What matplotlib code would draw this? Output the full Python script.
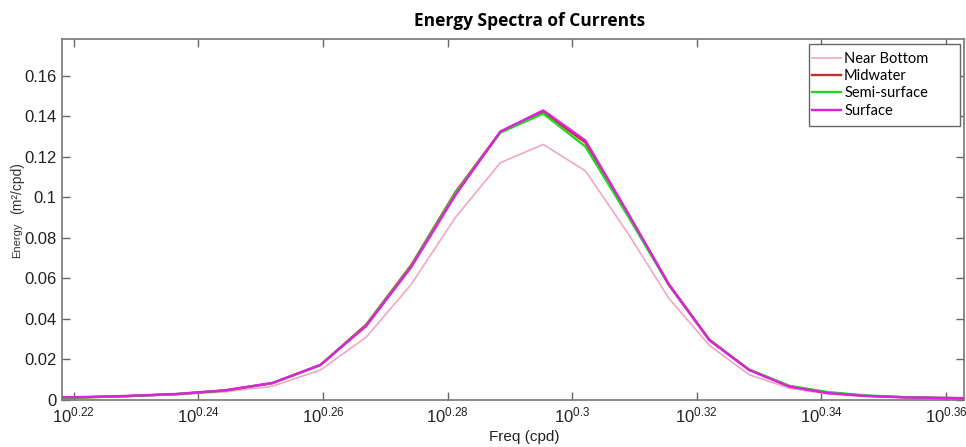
import matplotlib
matplotlib.use("Agg")
import matplotlib.pyplot as plt
from matplotlib.patches import Rectangle
from matplotlib.ticker import FixedLocator, FuncFormatter, NullLocator

# Frequencies (cpd)
freq = [1.630, 1.661, 1.692, 1.724, 1.755, 1.786, 1.818, 1.849, 1.880, 1.911,
        1.943, 1.974, 2.005, 2.037, 2.068, 2.099, 2.130, 2.162, 2.193, 2.224,
        2.255, 2.287, 2.318]

near_bottom = [0.0008, 0.0011, 0.0017, 0.0026, 0.0040, 0.0068, 0.0148, 0.0310,
               0.0570, 0.0900, 0.1170, 0.1260, 0.1130, 0.0820, 0.0500, 0.0270,
               0.0125, 0.0058, 0.0030, 0.0018, 0.0012, 0.0009, 0.0007]
midwater = [0.0009, 0.0012, 0.0019, 0.0029, 0.0047, 0.0083, 0.0173, 0.0372,
            0.0665, 0.1025, 0.1322, 0.1420, 0.1270, 0.0915, 0.0570, 0.0298,
            0.0150, 0.0068, 0.0036, 0.0021, 0.0014, 0.0010, 0.0008]
semi_surface = [0.0009, 0.0012, 0.0019, 0.0029, 0.0047, 0.0083, 0.0172, 0.0368,
                0.0660, 0.1020, 0.1318, 0.1412, 0.1250, 0.0905, 0.0565, 0.0296,
                0.0150, 0.0070, 0.0039, 0.0022, 0.0014, 0.0010, 0.0008]
surface = [0.0012, 0.0014, 0.0020, 0.0030, 0.0048, 0.0084, 0.0173, 0.0365,
           0.0655, 0.1010, 0.1324, 0.1428, 0.1280, 0.0920, 0.0567, 0.0295,
           0.0148, 0.0066, 0.0034, 0.0020, 0.0013, 0.0010, 0.0009]

series_names = ["Near Bottom", "Midwater", "Semi-surface", "Surface"]
xtick_exponents = [0.22, 0.24, 0.26, 0.28, 0.30, 0.32, 0.34, 0.36]
ytick_values = [0, 0.02, 0.04, 0.06, 0.08, 0.1, 0.12, 0.14, 0.16]
ytick_labels = ["0", "0.02", "0.04", "0.06", "0.08", "0.1", "0.12", "0.14", "0.16"]

colors = ["#f0a6c8", "#c0302a", "#22d822", "#e020e0"]
widths = [1.2, 1.7, 1.7, 1.7]

W, H = 966, 447
fig = plt.figure(figsize=(W / 100, H / 100), dpi=100)
ax = fig.add_axes([62 / W, 1 - 400 / H, (964 - 62) / W, (400 - 39) / H])

for ys, name, c, lw in zip([near_bottom, midwater, semi_surface, surface],
                           series_names, colors, widths):
    ax.plot(freq, ys, color=c, lw=lw, label=name)

ax.set_xscale("log")
ax.set_xlim(10 ** 0.2181, 10 ** 0.3629)
ax.set_ylim(0, 0.178)

ax.xaxis.set_major_locator(FixedLocator([10 ** e for e in xtick_exponents]))
ax.xaxis.set_minor_locator(NullLocator())


def fmt(v, pos):
    e = xtick_exponents[pos] if pos is not None and pos < len(xtick_exponents) else 0
    s = ("%.2f" % e).rstrip("0")
    return r"$\mathregular{10^{%s}}$" % s


ax.xaxis.set_major_formatter(FuncFormatter(fmt))
ax.set_yticks(ytick_values)
ax.set_yticklabels(ytick_labels)

tick_font = "Liberation Sans"
for lab in ax.get_xticklabels() + ax.get_yticklabels():
    lab.set_fontfamily(tick_font)
    lab.set_fontsize(12)
    lab.set_color("#222222")

ax.tick_params(direction="in", top=True, right=True, length=6, width=1,
               color="#666666", pad=4)
for sp in ax.spines.values():
    sp.set_color("#777777")
    sp.set_linewidth(1.2)

fig.text(524 / W, 1 - 437 / H, "Freq (cpd)", ha="center", va="center",
         fontfamily=tick_font, fontsize=11, color="#222222")

fig.text(530 / W, 1 - 21 / H, "Energy Spectra of Currents", ha="center",
         va="center", fontsize=12.5, fontweight="bold", fontfamily="Open Sans")

# y label: "Energy" small, "(m²/cpd)" larger
fig.text(17 / W, 1 - 240 / H, "Energy", rotation=90, ha="center",
         va="center", fontsize=8, fontfamily=tick_font, color="#333333")
fig.text(17 / W, 1 - 188 / H, "(m²/cpd)", rotation=90, ha="center",
         va="center", fontsize=10, fontfamily=tick_font, color="#333333")

# legend frame (MATLAB-style, with wide right padding)
frame = Rectangle((809 / W, 1 - 126 / H), (960 - 809) / W, (126 - 44) / H,
                  transform=fig.transFigure, facecolor="white",
                  edgecolor="#666666", lw=1.0, zorder=5, clip_on=False)
ax.add_patch(frame)
leg = ax.legend(loc="upper left", bbox_to_anchor=(812 / W, 1 - 52 / H),
                bbox_transform=fig.transFigure,
                prop={"family": "Lato", "size": 10.5}, frameon=False,
                handlelength=2.0, handletextpad=0.2, borderpad=0.0,
                labelspacing=0.22, borderaxespad=0.0)
leg.set_zorder(6)

fig.savefig("out.png", dpi=100)
